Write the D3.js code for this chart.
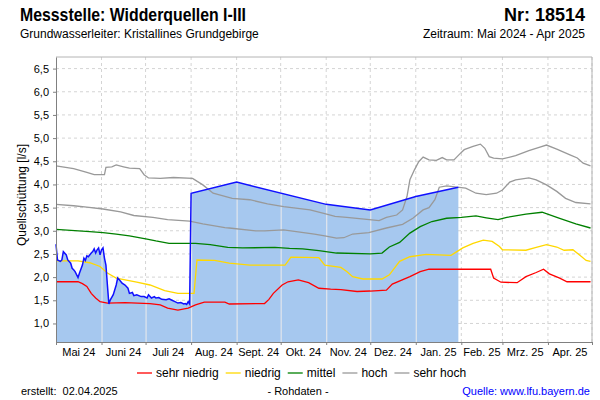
<!DOCTYPE html>
<html><head><meta charset="utf-8">
<script src="https://cdn.jsdelivr.net/npm/d3@7"></script>
<style>
body{margin:0;background:#fff;}
svg{display:block;font-family:"Liberation Sans",Arial,sans-serif;}
</style></head>
<body><svg id="c" width="600" height="400"></svg>
<script>
// ---------- data ----------
const monthLabels = ["Mai 24","Juni 24","Juli 24","Aug. 24","Sept. 24","Okt. 24","Nov. 24","Dez. 24","Jan. 25","Feb. 25","Mrz. 25","Apr. 25"];
const yTicks = [1.0,1.5,2.0,2.5,3.0,3.5,4.0,4.5,5.0,5.5,6.0,6.5];

const measuredDates = ["2024-05-01","2024-05-02","2024-05-04","2024-05-05","2024-05-06","2024-05-08","2024-05-09","2024-05-11","2024-05-12","2024-05-13","2024-05-14","2024-05-16","2024-05-17","2024-05-19","2024-05-20","2024-05-21","2024-05-22","2024-05-23","2024-05-25","2024-05-26","2024-05-27","2024-05-28","2024-05-29","2024-05-30","2024-05-31","2024-06-01","2024-06-02","2024-06-03","2024-06-04","2024-06-05","2024-06-06","2024-06-07","2024-06-09","2024-06-11","2024-06-12","2024-06-13","2024-06-15","2024-06-17","2024-06-19","2024-06-20","2024-06-22","2024-06-23","2024-06-25","2024-06-28","2024-06-30","2024-07-02","2024-07-03","2024-07-05","2024-07-07","2024-07-08","2024-07-10","2024-07-12","2024-07-15","2024-07-17","2024-07-19","2024-07-21","2024-07-23","2024-07-25","2024-07-27","2024-07-28","2024-07-29","2024-07-30","2024-07-31","2024-08-01","2024-09-01","2024-11-01","2024-12-01","2025-01-01","2025-01-30"];
const measuredValues = [2.71,2.37,2.34,2.37,2.55,2.48,2.37,2.30,2.19,2.16,2.12,1.99,2.09,2.26,2.41,2.36,2.46,2.44,2.52,2.55,2.61,2.52,2.59,2.63,2.48,2.59,2.63,2.41,2.26,1.83,1.42,1.51,1.62,1.83,1.98,1.95,1.87,1.83,1.76,1.65,1.67,1.60,1.62,1.58,1.58,1.55,1.62,1.55,1.58,1.55,1.56,1.52,1.51,1.53,1.50,1.47,1.44,1.45,1.42,1.43,1.41,1.47,1.42,3.81,4.05,3.57,3.45,3.74,3.94];

const sehrNiedrigDates = ["2024-05-01","2024-05-16","2024-05-19","2024-05-22","2024-05-25","2024-05-28","2024-05-31","2024-06-05","2024-06-17","2024-07-04","2024-07-11","2024-07-16","2024-07-23","2024-07-30","2024-08-04","2024-08-10","2024-08-24","2024-08-27","2024-09-20","2024-09-23","2024-09-26","2024-10-02","2024-10-06","2024-10-13","2024-10-20","2024-10-27","2024-11-04","2024-11-11","2024-11-22","2024-12-01","2024-12-12","2024-12-16","2024-12-28","2025-01-04","2025-01-10","2025-02-21","2025-02-23","2025-02-28","2025-03-11","2025-03-17","2025-03-24","2025-03-29","2025-04-02","2025-04-09","2025-04-14","2025-04-30"];
const sehrNiedrigValues = [1.90,1.90,1.86,1.80,1.65,1.55,1.47,1.44,1.45,1.43,1.40,1.33,1.29,1.33,1.40,1.46,1.46,1.42,1.43,1.52,1.65,1.83,1.90,1.94,1.88,1.76,1.74,1.73,1.69,1.70,1.72,1.85,2.01,2.12,2.17,2.17,1.98,1.89,1.88,2.01,2.10,2.17,2.07,1.98,1.90,1.90];

const niedrigDates = ["2024-05-01","2024-05-16","2024-05-24","2024-05-31","2024-06-05","2024-06-11","2024-06-25","2024-07-04","2024-07-14","2024-07-23","2024-08-03","2024-08-05","2024-08-17","2024-08-27","2024-09-10","2024-10-04","2024-10-08","2024-10-27","2024-10-31","2024-11-11","2024-11-15","2024-11-19","2024-11-26","2024-12-09","2024-12-14","2024-12-21","2024-12-28","2025-01-08","2025-01-25","2025-01-29","2025-02-02","2025-02-09","2025-02-16","2025-02-22","2025-02-27","2025-03-01","2025-03-17","2025-03-24","2025-03-31","2025-04-07","2025-04-12","2025-04-18","2025-04-24","2025-04-27","2025-04-30"];
const niedrigValues = [2.35,2.35,2.31,2.23,2.09,1.98,1.89,1.83,1.71,1.65,1.65,2.37,2.36,2.30,2.26,2.26,2.43,2.42,2.26,2.21,2.12,2.01,1.96,1.96,2.05,2.34,2.44,2.49,2.47,2.55,2.63,2.73,2.80,2.77,2.66,2.59,2.58,2.64,2.70,2.65,2.58,2.59,2.44,2.36,2.34];

const mittelDates = ["2024-05-01","2024-05-24","2024-06-02","2024-06-11","2024-06-20","2024-07-02","2024-07-08","2024-07-17","2024-08-04","2024-08-14","2024-08-26","2024-09-05","2024-09-27","2024-10-07","2024-10-16","2024-10-27","2024-11-08","2024-12-01","2024-12-09","2024-12-14","2024-12-21","2024-12-28","2025-01-04","2025-01-12","2025-01-22","2025-02-01","2025-02-11","2025-02-18","2025-02-26","2025-03-04","2025-03-17","2025-03-28","2025-04-09","2025-04-20","2025-04-30"];
const mittelValues = [3.03,2.98,2.96,2.93,2.89,2.82,2.78,2.73,2.73,2.70,2.64,2.63,2.64,2.62,2.61,2.57,2.52,2.50,2.52,2.65,2.75,2.95,3.09,3.20,3.27,3.29,3.32,3.28,3.24,3.29,3.36,3.40,3.27,3.15,3.06];

const hochDates = ["2024-05-01","2024-05-13","2024-05-22","2024-06-02","2024-06-14","2024-06-23","2024-07-06","2024-07-16","2024-07-31","2024-08-09","2024-08-24","2024-08-27","2024-09-14","2024-09-20","2024-10-03","2024-10-24","2024-10-31","2024-11-08","2024-11-13","2024-11-19","2024-11-30","2024-12-12","2024-12-23","2024-12-30","2025-01-06","2025-01-10","2025-01-14","2025-01-17","2025-01-22","2025-01-29","2025-02-04","2025-02-11","2025-02-18","2025-02-25","2025-03-01","2025-03-06","2025-03-10","2025-03-19","2025-03-24","2025-03-31","2025-04-07","2025-04-13","2025-04-20","2025-04-30"];
const hochValues = [3.57,3.54,3.51,3.47,3.41,3.33,3.29,3.24,3.21,3.15,3.07,3.06,3.00,3.00,3.02,2.93,2.89,2.84,2.85,2.93,2.96,3.06,3.14,3.27,3.45,3.50,3.67,3.94,3.97,3.94,3.92,3.81,3.78,3.81,3.88,4.05,4.10,4.14,4.10,3.99,3.85,3.70,3.61,3.58];

const sehrHochDates = ["2024-05-01","2024-05-13","2024-05-22","2024-05-27","2024-06-03","2024-06-04","2024-06-08","2024-06-11","2024-06-16","2024-06-20","2024-06-27","2024-06-30","2024-07-03","2024-07-11","2024-07-20","2024-08-02","2024-08-09","2024-08-16","2024-08-29","2024-09-10","2024-09-22","2024-10-03","2024-10-21","2024-10-31","2024-11-07","2024-11-15","2024-11-27","2024-12-07","2024-12-12","2024-12-19","2024-12-23","2024-12-26","2024-12-28","2024-12-31","2025-01-03","2025-01-06","2025-01-10","2025-01-15","2025-01-19","2025-01-22","2025-01-27","2025-01-31","2025-02-03","2025-02-09","2025-02-14","2025-02-17","2025-02-20","2025-02-23","2025-03-01","2025-03-10","2025-03-19","2025-03-26","2025-03-31","2025-04-07","2025-04-16","2025-04-21","2025-04-25","2025-04-30"];
const sehrHochValues = [4.40,4.34,4.26,4.21,4.21,4.37,4.38,4.42,4.38,4.35,4.34,4.21,4.14,4.13,4.15,4.13,3.99,3.81,3.70,3.67,3.58,3.52,3.45,3.37,3.31,3.29,3.25,3.22,3.29,3.34,3.45,3.74,4.10,4.31,4.49,4.59,4.53,4.52,4.58,4.53,4.53,4.66,4.75,4.82,4.87,4.78,4.60,4.57,4.55,4.62,4.73,4.80,4.85,4.76,4.64,4.57,4.46,4.40];

const legendNames = ["sehr niedrig","niedrig","mittel","hoch","sehr hoch"];
const legendColors = ["#ff0000","#ffd800","#008000","#999999","#999999"];

// ---------- chart ----------
const svg = d3.select("#c");
const parse = d3.utcParse("%Y-%m-%d");
const zip = (ds, vs) => ds.map((d,i)=>({date:parse(d), value:vs[i]}));

const x = d3.scaleUtc().domain([parse("2024-05-01"), parse("2025-05-01")]).range([56, 592]);
const y = d3.scaleLinear().domain([0.6, 6.75]).range([342, 57]);
const comma = v => d3.format(".1f")(v).replace(".", ",");
const months = d3.utcMonth.range(parse("2024-05-01"), parse("2025-05-02"));

// horizontal grid
svg.append("g").selectAll("line").data(yTicks).join("line")
  .attr("x1", 56).attr("x2", 592).attr("y1", d=>y(d)).attr("y2", d=>y(d))
  .attr("stroke", "#d4d4d4").attr("stroke-dasharray", "3,3");
// vertical grid
svg.append("g").selectAll("line").data(months.slice(1)).join("line")
  .attr("x1", d=>x(d)).attr("x2", d=>x(d)).attr("y1", 57).attr("y2", 342)
  .attr("stroke", "#d4d4d4").attr("stroke-dasharray", "3,3");

const measured = zip(measuredDates, measuredValues);
const area = d3.area().x(d=>x(d.date)).y0(342).y1(d=>y(d.value));
svg.append("clipPath").attr("id","areaClip").append("path").attr("d", area(measured));
svg.append("path").attr("d", area(measured)).attr("fill", "#a6c8ef");
// month lines inside fill
svg.append("g").attr("clip-path","url(#areaClip)").selectAll("line").data(months.slice(1)).join("line")
  .attr("x1", d=>x(d)+0.5).attr("x2", d=>x(d)+0.5).attr("y1", 57).attr("y2", 342)
  .attr("stroke", "#e2e6ec").attr("stroke-width", 1.2);

// frame top/right
svg.append("path").attr("d", "M56,57H592V342")
  .attr("fill","none").attr("stroke","#b4b4b4");

const line = d3.line().x(d=>x(d.date)).y(d=>y(d.value));
const series = [
  [sehrHochDates, sehrHochValues, "#999999"],
  [hochDates, hochValues, "#999999"],
  [mittelDates, mittelValues, "#008000"],
  [niedrigDates, niedrigValues, "#ffd800"],
  [sehrNiedrigDates, sehrNiedrigValues, "#ff0000"]
];
series.forEach(([ds, vs, c]) => {
  svg.append("path").attr("d", line(zip(ds, vs))).attr("fill","none")
    .attr("stroke", c).attr("stroke-width", 1.3);
});
svg.append("path").attr("d", line(measured)).attr("fill","none")
  .attr("stroke", "#1010ff").attr("stroke-width", 1.5);

// axes
const xAxis = svg.append("g").attr("transform","translate(0,342)")
  .call(d3.axisBottom(x).tickValues(months).tickFormat("").tickSize(3).tickSizeOuter(0));
const yAxis = svg.append("g").attr("transform","translate(56,0)")
  .call(d3.axisLeft(y).tickValues(yTicks).tickFormat(comma).tickSize(3).tickSizeOuter(0));
[xAxis, yAxis].forEach(g => {
  g.select(".domain").attr("stroke","#808080");
  g.selectAll(".tick line").attr("stroke","#808080");
});
yAxis.selectAll(".tick text").attr("font-size", 11).attr("fill","#000")
  .attr("font-family", '"Liberation Sans",Arial,sans-serif').attr("x", -7);

// month labels at mid-month
svg.append("g").selectAll("text").data(monthLabels).join("text")
  .attr("x", (d,i) => (x(months[i]) + x(months[i+1])) / 2)
  .attr("y", 356).attr("text-anchor","middle").attr("font-size", 11).attr("fill","#000")
  .text(d=>d);

// y title
svg.append("text").attr("transform","translate(26,195) rotate(-90)")
  .attr("text-anchor","middle").attr("font-size", 12).text("Quellschüttung [l/s]");

// titles
svg.append("text").attr("x",20).attr("y",21).attr("font-size",18).attr("font-weight","bold")
  .attr("textLength",226).attr("lengthAdjust","spacingAndGlyphs").text("Messstelle: Widderquellen I-III");
svg.append("text").attr("x",585).attr("y",21).attr("font-size",18).attr("font-weight","bold").attr("text-anchor","end").text("Nr: 18514");
svg.append("text").attr("x",20).attr("y",38).attr("font-size",12).text("Grundwasserleiter: Kristallines Grundgebirge");
svg.append("text").attr("x",585).attr("y",38).attr("font-size",12).attr("text-anchor","end").text("Zeitraum: Mai 2024 - Apr 2025");

// legend
let lx = 137;
const lg = svg.append("g");
legendNames.forEach((n,i) => {
  lg.append("line").attr("x1", lx).attr("x2", lx+15).attr("y1", 373).attr("y2", 373)
    .attr("stroke", legendColors[i]).attr("stroke-width", 1.3);
  const t = lg.append("text").attr("x", lx+19).attr("y", 377).attr("font-size", 12).text(n);
  lx += 19 + t.node().getComputedTextLength() + 7;
});

// footer
svg.append("text").attr("x",21).attr("y",395).attr("font-size",11).attr("xml:space","preserve").text("erstellt:  02.04.2025");
svg.append("text").attr("x",298).attr("y",395).attr("font-size",11).attr("text-anchor","middle").text("- Rohdaten -");
svg.append("text").attr("x",590).attr("y",395).attr("font-size",11).attr("text-anchor","end").attr("fill","#0000ff").text("Quelle: www.lfu.bayern.de");
</script></body></html>
